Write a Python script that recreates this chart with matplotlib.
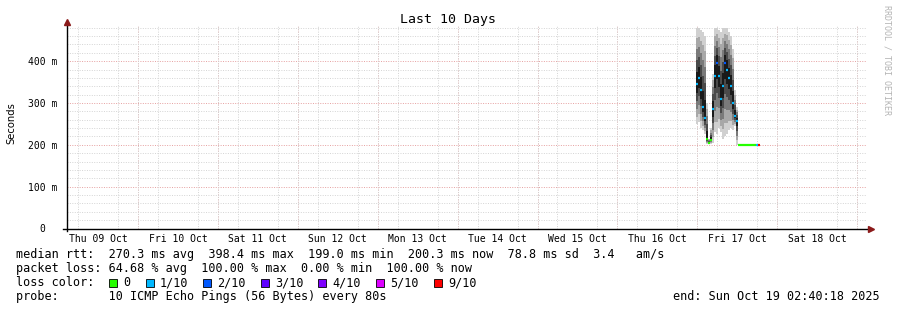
import matplotlib
matplotlib.use("Agg")
import matplotlib.pyplot as plt
import matplotlib.dates as mdates
from matplotlib.patches import Rectangle
from datetime import datetime, timedelta
import pandas as pd

W, H = 897, 310
MONO = "DejaVu Sans Mono"

# zaman aralığı
start = datetime(2025, 10, 9, 2, 40, 18)
end = datetime(2025, 10, 19, 2, 40, 18)
base = datetime(2025, 10, 17, 0, 0)

# smoke sütunları (saat, Oct 17 00:00'dan itibaren) - değerler ms
col_hours = [-0.3, 0.3, 0.9, 1.5, 2.1, 2.7, 3.3, 3.9, 4.5, 5.1, 5.7,
             6.3, 6.9, 7.5, 8.1, 8.7, 9.3, 9.9, 10.5, 11.1, 11.7]
col_med = [345, 360, 330, 290, 265, 215, 205, 212, 285, 365, 395,
           365, 310, 340, 395, 380, 360, 340, 300, 270, 258]
col_lo = [250, 255, 240, 235, 225, 203, 203, 203, 205, 230, 225,
          240, 230, 215, 220, 225, 235, 240, 235, 245, 200]
col_hi = [480, 480, 475, 470, 460, 300, 215, 240, 370, 480, 480,
          475, 470, 480, 480, 480, 470, 460, 430, 330, 290]
col_loss = [1, 1, 1, 1, 1, 0, 0, 0, 1, 1, 2,
            1, 1, 1, 2, 1, 1, 1, 1, 1, 1]
col_width_h = 0.6

# son kısım: sabit 200 ms medyan
tail_start = [12.3, 17.7, 18.2]
tail_end = [17.7, 18.2, 18.7]
tail_med = [200, 200, 200]
tail_loss = [0, 1, 9]

loss_colors = {0: "#26ff00", 1: "#00b8ff", 2: "#0059ff", 3: "#5e00ff",
               4: "#7e00ff", 5: "#dd00ff", 9: "#ff0000"}
legend_keys = [0, 1, 2, 3, 4, 5, 9]
legend_labels = ["0", "1/10", "2/10", "3/10", "4/10", "5/10", "9/10"]

fig = plt.figure(figsize=(W / 100, H / 100), dpi=100)
fig.patch.set_facecolor("white")
x0, x1, ytop, ybot = 67, 866, 26, 228.5
ax = fig.add_axes([x0 / W, 1 - ybot / H, (x1 - x0) / W, (ybot - ytop) / H])
ax.set_xlim(start, end)
ax.set_ylim(0, 484)
for s in ax.spines.values():
    s.set_visible(False)

# ızgara
ax.set_yticks([0, 100, 200, 300, 400])
ax.set_yticklabels(["0  ", "100 m", "200 m", "300 m", "400 m"],
                   fontfamily=MONO, fontsize=7)
ax.set_yticks(range(0, 481, 20), minor=True)
ax.xaxis.set_major_locator(mdates.HourLocator(byhour=[12]))
ax.xaxis.set_major_formatter(mdates.DateFormatter("%a %d %b"))
ax.xaxis.set_minor_locator(mdates.HourLocator(byhour=[0, 6, 12, 18]))
for lbl in ax.get_xticklabels():
    lbl.set_fontfamily(MONO)
    lbl.set_fontsize(7)
ax.tick_params(axis="both", which="both", length=0)
ax.tick_params(axis="x", pad=4)
ax.tick_params(axis="y", pad=7)
ax.grid(which="minor", color="#d4d4d4", linestyle=(0, (1, 1.5)), linewidth=0.7)
for y in [100, 200, 300, 400]:
    ax.axhline(y, color="#e6a0a0", linestyle=(0, (1, 1.5)), linewidth=0.7, zorder=1)
for d in pd.date_range("2025-10-10", "2025-10-19", freq="D"):
    ax.axvline(d, color="#e6a0a0", linestyle=(0, (1, 1.5)), linewidth=0.7, zorder=1)

# smoke katmanları
greys = ["#d0d0d0", "#a8a8a8", "#7a7a7a", "#4a4a4a", "#1a1a1a"]
fracs = [1.0, 0.82, 0.62, 0.42, 0.22]
w = timedelta(hours=col_width_h)
times = [base + timedelta(hours=h) for h in col_hours]
for g, f in zip(greys, fracs):
    bottoms = [m - f * (m - lo) for m, lo in zip(col_med, col_lo)]
    tops = [m + f * (hi - m) for m, hi in zip(col_med, col_hi)]
    ax.bar(times, [t - b for t, b in zip(tops, bottoms)], bottom=bottoms,
           width=w, align="edge", color=g, linewidth=0, zorder=3)

# medyan
for t, m, l in zip(times, col_med, col_loss):
    ax.plot([t, t + w], [m, m], color=loss_colors[l], linewidth=1.6,
            solid_capstyle="butt", zorder=5)
for a, b, m, l in zip(tail_start, tail_end, tail_med, tail_loss):
    ax.plot([base + timedelta(hours=a), base + timedelta(hours=b)], [m, m],
            color=loss_colors[l], linewidth=1.6, solid_capstyle="butt", zorder=5)

# eksenler ve oklar
ax.plot([-0.005, 1.005], [0, 0], transform=ax.transAxes, color="black",
        linewidth=1, clip_on=False, zorder=6)
ax.plot([0, 0], [-0.012, 1.01], transform=ax.transAxes, color="black",
        linewidth=1, clip_on=False, zorder=6)
ax.plot([1.006], [0], marker=">", markersize=4, color="#8b1a1a",
        transform=ax.transAxes, clip_on=False, zorder=7)
ax.plot([0], [1.018], marker="^", markersize=4, color="#8b1a1a",
        transform=ax.transAxes, clip_on=False, zorder=7)

# metinler
def px(x, y):
    return x / W, 1 - y / H

fig.text(*px(448, 19), "Last 10 Days", fontfamily=MONO, fontsize=9.5,
         ha="center", va="center")
fig.text(*px(11, 123), "Seconds", fontsize=7.2, rotation=90,
         ha="center", va="center")
fig.text(*px(887, 5), "RRDTOOL / TOBI OETIKER", fontfamily=MONO, fontsize=6,
         color="#b4b4b4", rotation=-90, ha="center", va="top")

lines = [
    "median rtt:  270.3 ms avg  398.4 ms max  199.0 ms min  200.3 ms now  78.8 ms sd  3.4   am/s",
    "packet loss: 64.68 % avg  100.00 % max  0.00 % min  100.00 % now",
    "loss color:",
    "probe:       10 ICMP Echo Pings (56 Bytes) every 80s",
]
FS = 8.5
ys = [254.5, 268.5, 282.5, 296.5]
for txt, y in zip(lines, ys):
    fig.text(*px(16, y), txt, fontfamily=MONO, fontsize=FS, ha="left", va="center")
fig.text(*px(880, 296.5), "end: Sun Oct 19 02:40:18 2025", fontfamily=MONO,
         fontsize=FS, ha="right", va="center")

sq_x = [109, 146, 203, 261, 318, 376, 434]
for sx, k, lab in zip(sq_x, legend_keys, legend_labels):
    fig.patches.append(Rectangle(px(sx, 287), 8 / W, 8 / H, transform=fig.transFigure,
                                 facecolor=loss_colors[k], edgecolor="black",
                                 linewidth=0.6))
    fig.text(*px(sx + 14, 282.5), lab, fontfamily=MONO, fontsize=FS,
             ha="left", va="center")

fig.savefig("out.png", dpi=100)
